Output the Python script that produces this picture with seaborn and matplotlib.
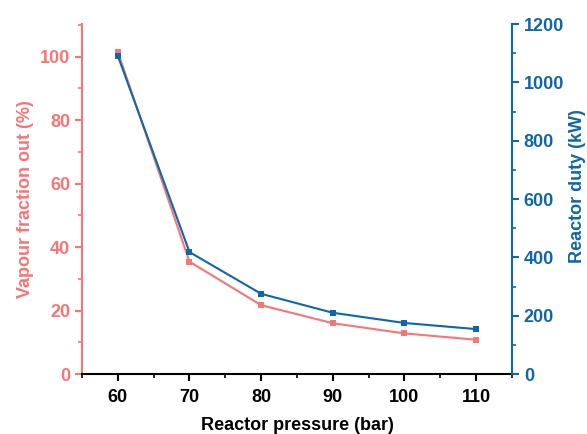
import matplotlib
matplotlib.use("Agg")
import matplotlib.pyplot as plt
import seaborn as sns
import pandas as pd
from matplotlib.ticker import MultipleLocator

pressure = [60, 70, 80, 90, 100, 110]
vapour_fraction = [101.5, 35.4, 21.7, 16.0, 12.8, 10.8]
reactor_duty = [1091, 418, 275, 210, 175, 154]

RED = "#F67575"
BLUE = "#0F67A8"

sns.set_theme(style="ticks")
plt.rcParams['font.family'] = ['Liberation Sans', 'DejaVu Sans']
plt.rcParams['font.weight'] = 'bold'

df = pd.DataFrame({"pressure": pressure, "vapour": vapour_fraction, "duty": reactor_duty})

fig = plt.figure(figsize=(5.87, 4.34), dpi=100)
ax = fig.add_axes([0.1397, 0.1382, 0.8722 - 0.1397, 0.9447 - 0.1382])
ax2 = ax.twinx()

sns.lineplot(data=df, x="pressure", y="vapour", ax=ax, color=RED, linewidth=1.5,
             marker="s", markersize=4, markeredgewidth=0)
sns.lineplot(data=df, x="pressure", y="duty", ax=ax2, color=BLUE, linewidth=1.5,
             marker="s", markersize=4, markeredgewidth=0)

ax.set_xlim(55, 115)
ax.set_ylim(0, 110.3)
ax2.set_ylim(0, 1200)

ax.xaxis.set_major_locator(MultipleLocator(10))
ax.xaxis.set_minor_locator(MultipleLocator(5))
ax.yaxis.set_major_locator(MultipleLocator(20))
ax.yaxis.set_minor_locator(MultipleLocator(10))
ax2.yaxis.set_major_locator(MultipleLocator(200))
ax2.yaxis.set_minor_locator(MultipleLocator(100))

for a in (ax, ax2):
    a.spines['top'].set_visible(False)
    for s in a.spines.values():
        s.set_linewidth(1.5)

ax.spines['left'].set_color(RED)
ax.spines['right'].set_visible(False)
ax.spines['bottom'].set_color('black')
ax2.spines['right'].set_color(BLUE)
ax2.spines['left'].set_visible(False)
ax2.spines['bottom'].set_visible(False)

ax.tick_params(axis='x', which='major', direction='out', length=5, width=1.5, colors='black', labelsize=13, pad=6)
ax.tick_params(axis='x', which='minor', direction='out', length=3, width=1.2, colors='black')
ax.tick_params(axis='y', which='major', direction='out', length=5, width=1.5, colors=RED, labelsize=13)
ax.tick_params(axis='y', which='minor', direction='out', length=3, width=1.2, colors=RED)
ax2.tick_params(axis='y', which='major', direction='out', length=5, width=1.5, colors=BLUE, labelsize=13)
ax2.tick_params(axis='y', which='minor', direction='out', length=3, width=1.2, colors=BLUE)

for lab in ax.get_xticklabels() + ax.get_yticklabels() + ax2.get_yticklabels():
    lab.set_fontweight('bold')

ax.set_xlabel("Reactor pressure (bar)", fontsize=13, fontweight='bold', color='black', labelpad=8)
ax.set_ylabel("Vapour fraction out (%)", fontsize=13, fontweight='bold', color=RED, labelpad=4)
ax2.set_ylabel("Reactor duty (kW)", fontsize=13, fontweight='bold', color=BLUE, labelpad=3.5)
ax2.yaxis.label.set_y(0.537)

fig.savefig("out.png", dpi=100)
